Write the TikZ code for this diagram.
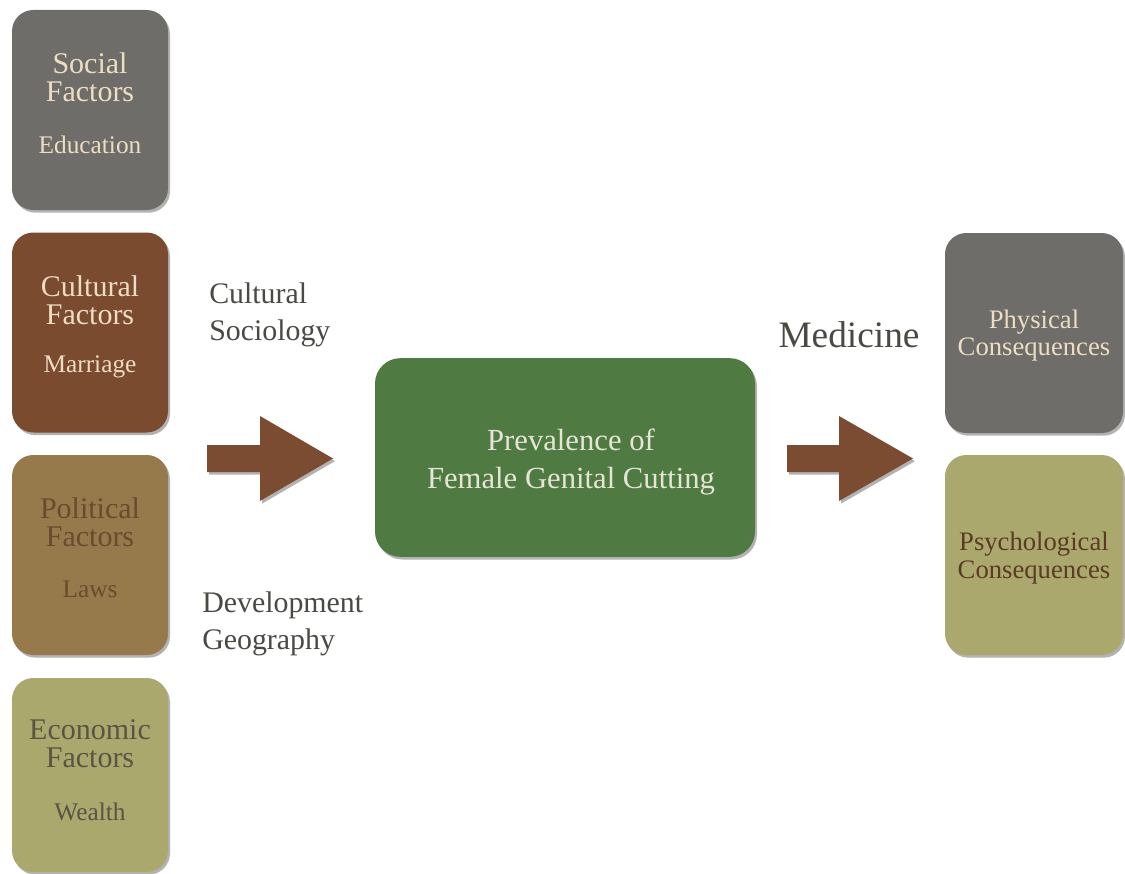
\documentclass[tikz,border=0pt]{standalone}
\usepackage{fontspec}
\setmainfont{Liberation Serif}
\usetikzlibrary{shadows}
\definecolor{boxgray}{HTML}{6E6D69}
\definecolor{boxbrown}{HTML}{7A4B2F}
\definecolor{boxtan}{HTML}{967A4C}
\definecolor{boxolive}{HTML}{ABA86E}
\definecolor{boxgreen}{HTML}{4F7B43}
\definecolor{arrowbrown}{HTML}{7B4C31}
\definecolor{cream}{HTML}{EDDDC2}
\definecolor{tantext}{HTML}{6B4A30}
\definecolor{olivetext}{HTML}{5A5445}
\definecolor{psytext}{HTML}{5C3A26}
\definecolor{sidetext}{HTML}{4A4A45}
\definecolor{centertext}{HTML}{E6E4D6}
\begin{document}
\begin{tikzpicture}[x=0.75pt,y=-0.75pt,
  shad/.style={drop shadow={shadow xshift=1.5pt,shadow yshift=-2pt,opacity=0.3,fill=black}},
  box/.style={rounded corners=16pt,minimum width=117pt,minimum height=150pt,inner sep=0pt,shad},
  title/.style={align=center,inner sep=0pt,font=\fontsize{22.5}{21}\selectfont},
  sub/.style={inner sep=0pt,font=\fontsize{19}{22}\selectfont},
  cons/.style={align=center,inner sep=0pt,font=\fontsize{20}{20.5}\selectfont},
  side/.style={align=left,inner sep=0pt,anchor=west,text=sidetext,font=\fontsize{22.4}{27.5}\selectfont},
  blockarrow/.style={fill=arrowbrown,shad}]
\useasboundingbox[fill=white] (0,0) rectangle (1125,874);
% left boxes
\node[box,fill=boxgray] (social) at (90,110) {};
\node[box,fill=boxbrown] (cultural) at (90,332.5) {};
\node[box,fill=boxtan] (political) at (90,555) {};
\node[box,fill=boxolive,minimum height=145.5pt] (economic) at (90,775) {};
\node[title,text=cream] (socialT) at (90,77) {Social\\Factors};
\node[sub,text=cream] (socialS) at (90,145) {Education};
\node[title,text=cream] (culturalT) at (90,300) {Cultural\\Factors};
\node[sub,text=cream] (culturalS) at (90,367) {Marriage};
\node[title,text=tantext] (politicalT) at (90,522) {Political\\Factors};
\node[sub,text=tantext] (politicalS) at (90,589) {Laws};
\node[title,text=olivetext] (economicT) at (90,744) {Economic\\Factors};
\node[sub,text=olivetext] (economicS) at (90,812) {Wealth};
% right boxes
\node[box,fill=boxgray,minimum width=133.5pt] (physical) at (1034,333) {};
\node[box,fill=boxolive,minimum width=133.5pt] (psych) at (1034,555) {};
\node[cons,text=cream] (physicalT) at (1034,335.5) {Physical\\Consequences};
\node[cons,text=psytext] (psychT) at (1034,558) {Psychological\\Consequences};
% center
\node[box,fill=boxgreen,minimum width=285pt,minimum height=149pt,rounded corners=19pt] (center) at (565,457.5) {};
\node[align=center,inner sep=0pt,text=centertext,font=\fontsize{23}{28}\selectfont] (centerT) at (571,462) {Prevalence of\\Female Genital Cutting};
% side labels
\node[side] (cs) at (209,315) {Cultural\\Sociology};
\node[side] (dg) at (202,624) {Development\\Geography};
\node[inner sep=0pt,text=sidetext,font=\fontsize{28}{30}\selectfont] (med) at (849,335) {Medicine};
% arrows
\coordinate (la) at (207,458.5);
\coordinate (ra) at (787,458.5);
\fill[blockarrow] (la) ++(0,-13.5) -- ++(53,0) -- ++(0,-29) -- ++(73,42.5) -- ++(-73,42.5) -- ++(0,-29) -- ++(-53,0) -- cycle;
\fill[blockarrow] (ra) ++(0,-13.5) -- ++(52,0) -- ++(0,-29) -- ++(74,42.5) -- ++(-74,42.5) -- ++(0,-29) -- ++(-52,0) -- cycle;
\end{tikzpicture}
\end{document}
